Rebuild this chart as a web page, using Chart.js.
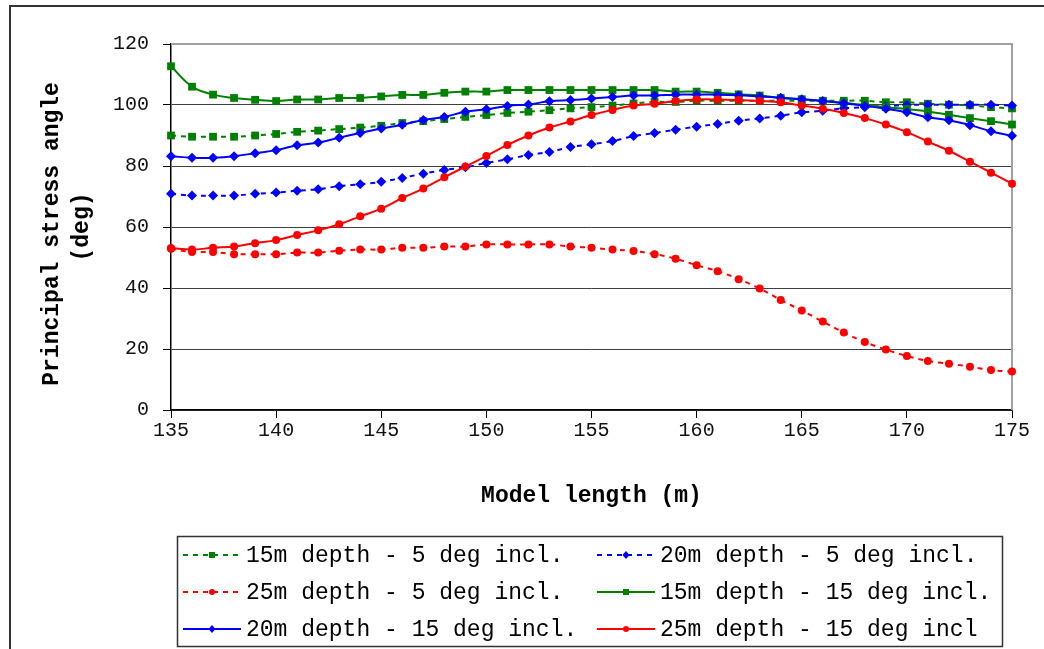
<!DOCTYPE html>
<html>
<head>
<meta charset="utf-8">
<script src="https://cdn.jsdelivr.net/npm/chart.js@4/dist/chart.umd.min.js"></script>
<style>
  html, body { margin: 0; padding: 0; background: #fff; }
  #wrap { width: 1044px; height: 649px; position: relative; }
</style>
</head>
<body>
<div id="wrap"><canvas id="stress-chart"></canvas></div>
<script>
// Model length (m)
const lengths = [135, 136, 137, 138, 139, 140, 141, 142, 143, 144, 145, 146, 147, 148, 149, 150,
    151, 152, 153, 154, 155, 156, 157, 158, 159, 160, 161, 162, 163, 164, 165, 166, 167, 168,
    169, 170, 171, 172, 173, 174, 175];

// principal stress angle (deg), one array per case
const depth15incl5 = [90.0, 89.6, 89.6, 89.6, 90.0, 90.5, 91.2, 91.6, 92.1, 92.6, 93.2, 94.1, 94.7,
    95.4, 96.1, 96.7, 97.4, 97.8, 98.3, 98.9, 99.3, 99.8, 100.5, 101.0, 101.0, 101.4, 101.4, 101.4,
    101.4, 101.4, 101.4, 101.4, 101.4, 101.4, 100.9, 100.9, 100.4, 100.1, 99.9, 99.3, 98.9];
const depth20incl5 = [70.9, 70.3, 70.3, 70.3, 70.9, 71.3, 71.9, 72.4, 73.4, 74.0, 74.8, 76.1, 77.5,
    78.7, 79.6, 81.0, 82.2, 83.6, 84.6, 86.2, 87.1, 88.2, 89.8, 90.8, 91.9, 92.9, 93.8, 94.8, 95.6,
    96.5, 97.6, 98.1, 98.9, 99.3, 99.6, 100.0, 100.1, 100.1, 100.1, 100.1, 99.8];
const depth25incl5 = [52.9, 51.8, 51.8, 51.1, 51.1, 51.1, 51.6, 51.6, 52.2, 52.6, 52.6, 53.2, 53.2,
    53.6, 53.6, 54.3, 54.3, 54.3, 54.3, 53.6, 53.2, 52.6, 52.1, 51.1, 49.6, 47.5, 45.5, 42.9, 39.8,
    36.1, 32.6, 29.0, 25.4, 22.3, 19.8, 17.7, 16.1, 15.2, 14.2, 13.1, 12.6];
const depth15incl15 = [112.7, 106.0, 103.4, 102.3, 101.7, 101.3, 101.8, 101.8, 102.3, 102.3, 102.8,
    103.3, 103.3, 104.0, 104.4, 104.4, 104.9, 104.9, 104.9, 104.9, 104.9, 104.9, 104.9, 104.9, 104.4,
    104.4, 104.0, 103.5, 103.1, 102.3, 101.9, 101.3, 100.7, 100.0, 99.3, 98.7, 97.9, 96.8, 95.7,
    94.7, 93.6];
const depth20incl15 = [83.2, 82.7, 82.7, 83.2, 84.2, 85.2, 86.8, 87.7, 89.3, 90.8, 92.3, 93.5, 95.1,
    96.1, 97.8, 98.6, 99.7, 100.2, 101.2, 101.6, 102.1, 102.6, 103.1, 103.1, 103.4, 103.4, 103.4,
    103.2, 102.8, 102.4, 101.9, 101.3, 100.6, 99.7, 98.8, 97.6, 96.0, 95.0, 93.4, 91.4, 89.9];
const depth25incl15 = [53.1, 52.6, 53.2, 53.6, 54.7, 55.7, 57.4, 58.9, 60.9, 63.5, 66.0, 69.5, 72.6,
    76.3, 79.8, 83.3, 86.9, 90.0, 92.6, 94.6, 96.7, 98.4, 99.8, 100.4, 101.3, 101.8, 101.8, 101.6,
    101.3, 100.9, 99.8, 98.8, 97.4, 95.7, 93.6, 91.1, 88.0, 85.0, 81.4, 77.8, 74.2];

const seriesLabels = ['15m depth - 5 deg incl.', '20m depth - 5 deg incl.', '25m depth - 5 deg incl.',
    '15m depth - 15 deg incl.', '20m depth - 15 deg incl.', '25m depth - 15 deg incl'];
const seriesValues = [depth15incl5, depth20incl5, depth25incl5, depth15incl15, depth20incl15, depth25incl15];

const yTicks = [0, 20, 40, 60, 80, 100, 120];

const GREEN = '#008000';
const BLUE = '#0000ff';
const RED = '#ff0000';
const colors = [GREEN, BLUE, RED, GREEN, BLUE, RED];
const markers = ['rect', 'rectRot', 'circle', 'rect', 'rectRot', 'circle'];
const markerSize = { rect: 5.5, rectRot: 5, circle: 4 };

const monoFont = '"Courier New", "Liberation Mono", monospace';

// serie -> dataset; dotted lines are the 5 deg cases
const datasets = seriesValues.map((vals, i) => ({
    label: seriesLabels[i],
    data: lengths.map((x, j) => ({ x: x, y: vals[j] })),
    borderColor: colors[i],
    backgroundColor: colors[i],
    borderWidth: 2,
    borderDash: i < 3 ? [5, 5] : [],
    pointStyle: markers[i],
    pointRadius: markerSize[markers[i]],
    pointHoverRadius: markerSize[markers[i]],
    pointBorderWidth: 0,
    tension: 0.4,
    order: 6 - i,
    clip: 10
}));

// рамки: външна рамка, рамка на графиката, легенда
const frames = {
    id: 'frames',
    beforeDatasetsDraw(chart) {
        const { ctx, chartArea } = chart;
        ctx.save();
        ctx.strokeStyle = '#a0a0a0';
        ctx.lineWidth = 2;
        ctx.beginPath();
        ctx.moveTo(chartArea.left, chartArea.top);
        ctx.lineTo(chartArea.right, chartArea.top);
        ctx.lineTo(chartArea.right, chartArea.bottom);
        ctx.stroke();
        ctx.restore();
    },
    afterDraw(chart) {
        const ctx = chart.ctx;
        ctx.save();
        ctx.strokeStyle = '#333';
        ctx.lineWidth = 2;
        ctx.strokeRect(10, 6, 1060, 700);

        ctx.lineWidth = 1.5;
        ctx.strokeRect(177.5, 536.5, 825, 110);

        chart.data.datasets.forEach((ds, i) => {
            const x0 = (i % 2) ? 597 : 183;
            const y = 555 + Math.floor(i / 2) * 37;
            ctx.strokeStyle = ds.borderColor;
            ctx.lineWidth = ds.borderWidth;
            ctx.setLineDash(ds.borderDash);
            ctx.beginPath();
            ctx.moveTo(x0, y);
            ctx.lineTo(x0 + 58, y);
            ctx.stroke();
            ctx.setLineDash([]);

            ctx.fillStyle = ds.borderColor;
            const mx = x0 + 29;
            ctx.beginPath();
            if (ds.pointStyle === 'rect') {
                ctx.rect(mx - 3, y - 3, 6, 6);
            } else if (ds.pointStyle === 'rectRot') {
                ctx.moveTo(mx, y - 4);
                ctx.lineTo(mx + 3.5, y);
                ctx.lineTo(mx, y + 4);
                ctx.lineTo(mx - 3.5, y);
                ctx.closePath();
            } else {
                ctx.arc(mx, y, 3, 0, Math.PI * 2);
            }
            ctx.fill();

            ctx.fillStyle = '#000';
            ctx.font = '23px ' + monoFont;
            ctx.textBaseline = 'middle';
            ctx.textAlign = 'left';
            ctx.fillText(ds.label, x0 + 63, y + 1);
        });
        ctx.restore();
    }
};

const canvas = document.getElementById('stress-chart');
new Chart(canvas, {
    type: 'line',
    data: { datasets: datasets },
    options: {
        responsive: true,
        maintainAspectRatio: false,
        animation: false,
        layout: {
            padding: { left: 10, top: 44, right: 32, bottom: 139 }
        },
        scales: {
            x: {
                type: 'linear',
                min: 135,
                max: 175,
                afterFit(scale) { scale.height = 100; },
                ticks: {
                    stepSize: 5,
                    color: '#111',
                    padding: 1,
                    font: { family: monoFont, size: 20 }
                },
                grid: {
                    drawOnChartArea: false,
                    tickLength: 8,
                    tickColor: '#000'
                },
                border: { color: '#000', width: 1.5 },
                title: {
                    display: true,
                    text: 'Model length (m)',
                    color: '#000',
                    padding: { top: 0, bottom: 0 },
                    font: { family: monoFont, size: 23, weight: 'bold', lineHeight: 1.2 }
                }
            },
            y: {
                min: 0,
                max: 120,
                afterFit(scale) { scale.width = 161; },
                afterBuildTicks(scale) {
                    scale.ticks = yTicks.map(v => ({ value: v }));
                },
                ticks: {
                    color: '#111',
                    padding: 14,
                    font: { family: monoFont, size: 20 }
                },
                grid: {
                    color: ctx => (ctx.tick && ctx.tick.value === 120) ? '#a0a0a0' : '#404040',
                    lineWidth: 1,
                    tickLength: 8,
                    tickColor: '#000'
                },
                border: { color: '#000', width: 1.5 },
                title: {
                    display: true,
                    text: ['Principal stress angle ', '(deg)'],
                    color: '#000',
                    padding: { top: 27, bottom: 0 },
                    font: { family: monoFont, size: 23, weight: 'bold', lineHeight: 1.3 }
                }
            }
        },
        plugins: {
            legend: { display: false },
            tooltip: { enabled: false }
        }
    },
    plugins: [frames]
});
</script>
</body>
</html>
